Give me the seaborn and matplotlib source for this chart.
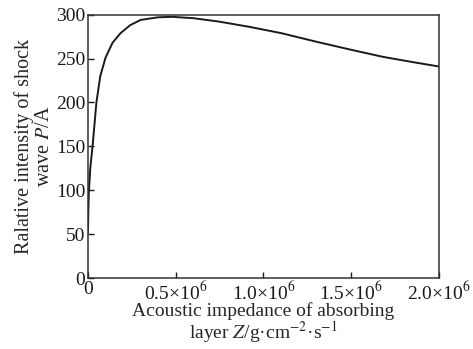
import numpy as np
import pandas as pd
import matplotlib
matplotlib.use('Agg')
import matplotlib.pyplot as plt
import seaborn as sns

# values
impedance = [0, 2e3, 5e3, 13e3, 27e3, 48e3, 70e3, 100e3, 140e3, 186e3, 240e3, 300e3,
             400e3, 480e3, 600e3, 750e3, 923e3, 1.1e6, 1.305e6, 1.5e6, 1.68e6, 1.85e6, 2.0e6]
intensity = [52, 75, 98, 125, 152, 200, 230, 251, 268, 279, 288, 294,
             297, 297.5, 296, 292, 286, 279, 269, 260, 252, 246, 241]

xticks = [0, 0.5e6, 1.0e6, 1.5e6, 2.0e6]
xtick_labels = ['0', r'0.5×10$^6$', r'1.0×10$^6$', r'1.5×10$^6$', r'2.0×10$^6$']
yticks = [0, 50, 100, 150, 200, 250, 300]

sns.set_style('ticks')
plt.rcParams['font.family'] = ['Liberation Serif', 'DejaVu Serif']
plt.rcParams['mathtext.fontset'] = 'stix'

df = pd.DataFrame({'Z': impedance, 'P': intensity})

fig = plt.figure(figsize=(4.73, 3.49), dpi=100)
ax = fig.add_axes([0.186, 0.203, 0.742, 0.755])
sns.lineplot(data=df, x='Z', y='P', ax=ax, color='#1a1a1a', linewidth=1.4)

ax.set_xlim(0, 2.0e6)
ax.set_ylim(0, 300)
ax.set_xticks(xticks)
ax.set_xticklabels(xtick_labels)
ax.set_yticks(yticks)
ax.tick_params(direction='in', length=4, width=1, labelsize=14, colors='#1a1a1a', pad=2)
for s in ax.spines.values():
    s.set_linewidth(1.1)
    s.set_color('#333333')

ax.set_xlabel('Acoustic impedance of absorbing\nlayer $Z$/g·cm$^{-2}$·s$^{-1}$', fontsize=14, labelpad=-1, linespacing=0.95)
ax.set_ylabel('Ralative intensity of shock\nwave $P$/A', fontsize=14.5, labelpad=1, linespacing=1.12)

fig.savefig('out.png', dpi=100, facecolor='white')
